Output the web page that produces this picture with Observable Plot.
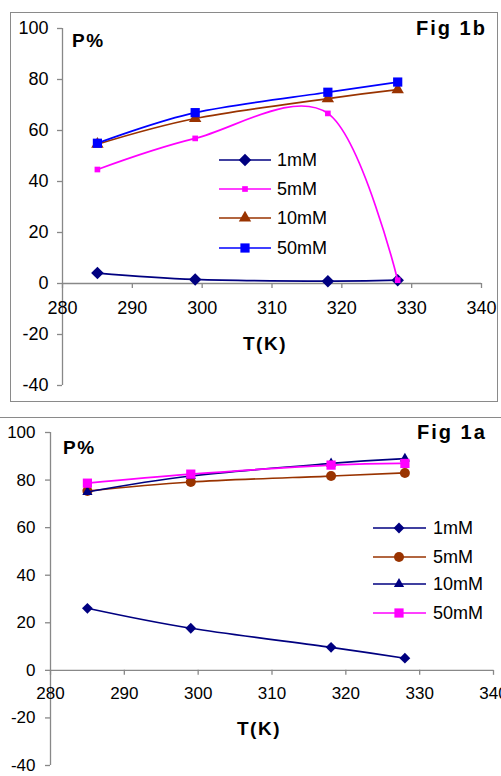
<!DOCTYPE html>
<html><head><meta charset="utf-8">
<script src="https://cdn.jsdelivr.net/npm/d3@7"></script>
<script src="https://cdn.jsdelivr.net/npm/@observablehq/plot@0.6"></script>
<style>
html,body{margin:0;padding:0;background:#fff;overflow:hidden;}
#root{position:relative;width:501px;height:776px;overflow:hidden;font-family:"Liberation Sans",Arial,sans-serif;background:#fff;}
.chart{position:absolute;left:0;}
.box{position:absolute;border:1.5px solid #8a8a8a;box-sizing:border-box;background:transparent;}
#overlay{position:absolute;left:0;top:0;pointer-events:none;}
</style></head><body><div id="root"></div>
<script>
// ---------- data ----------
const temps = [285, 299, 318, 328];
const xTicks = [280, 290, 300, 310, 320, 330, 340];
const yTicks = [-40, -20, 0, 20, 40, 60, 80, 100];
const seriesNames = ["1mM", "5mM", "10mM", "50mM"];

// Fig 1b
const fig1b_1mM  = [4.1, 1.6, 0.9, 1.3];
const fig1b_5mM  = [44.7, 56.9, 66.7, 1.3];
const fig1b_10mM = [54.6, 64.7, 72.5, 76.0];
const fig1b_50mM = [55.0, 67.0, 75.0, 79.0];

// Fig 1a
const fig1a_1mM  = [26.1, 17.7, 9.7, 5.1];
const fig1a_5mM  = [75.4, 79.2, 81.7, 83.0];
const fig1a_10mM = [75.0, 81.7, 87.0, 89.0];
const fig1a_50mM = [78.7, 82.5, 86.3, 87.0];

// ---------- styles ----------
const AX = "#888888";
const diamond = {draw(ctx, size){ const r = Math.sqrt(size/2); ctx.moveTo(0,-r); ctx.lineTo(r,0); ctx.lineTo(0,r); ctx.lineTo(-r,0); ctx.closePath(); }};
const d3sym = {square: d3.symbolSquare, triangle: d3.symbolTriangle, circle: d3.symbolCircle};
const styleB = [
  {color:"#000080", symbol: diamond, r:5},
  {color:"#FF00FF", symbol:"square", r:3.2},
  {color:"#993300", symbol:"triangle", r:4.6},
  {color:"#0000FF", symbol:"square", r:5.2}
];
const styleA = [
  {color:"#000080", symbol: diamond, r:4.3},
  {color:"#993300", symbol:"circle", r:5},
  {color:"#000080", symbol:"triangle", r:3.8},
  {color:"#FF00FF", symbol:"square", r:5.2}
];

function panel(values, styles, cfg) {
  const marks = [
    Plot.ruleX([280], {stroke: AX, strokeWidth: 1.3}),
    Plot.ruleY([0], {stroke: AX, strokeWidth: 1.3}),
    Plot.ruleX(xTicks, {x: d => d, y1: 0, y2: 0, insetBottom: -cfg.tick, stroke: AX, strokeWidth: 1.3}),
    Plot.ruleY(yTicks, {y: d => d, x1: 280, x2: 280, insetLeft: -cfg.tick, stroke: AX, strokeWidth: 1.3}),
    Plot.text(xTicks, {x: d => d, y: 0, dy: cfg.xdy, text: d => String(d), fontSize: cfg.fs, fill: "#000"}),
    Plot.text(yTicks, {x: 280, y: d => d, dx: cfg.ydx, text: d => String(d), textAnchor: "end", fontSize: cfg.fs, fill: "#000"})
  ];
  seriesNames.forEach((name, i) => {
    const d = temps.map((t, j) => ({series: name, T: t, P: values[i][j]}));
    const s = styles[i];
    marks.push(Plot.line(d, {x: "T", y: "P", stroke: s.color, strokeWidth: 1.7, curve: "cardinal"}));
    marks.push(Plot.dot(d, {x: "T", y: "P", symbol: s.symbol, r: s.r, fill: s.color, stroke: "none"}));
  });
  return Plot.plot({
    width: 501, height: cfg.height,
    marginLeft: cfg.ml, marginRight: cfg.mr, marginTop: cfg.mt, marginBottom: cfg.mb,
    x: {domain: [280, 340], axis: null},
    y: {domain: [-40, 100], axis: null},
    style: {fontFamily: '"Liberation Sans", Arial, sans-serif', background: "transparent", overflow: "visible"},
    marks
  });
}

const root = document.getElementById("root");

const chartB = panel([fig1b_1mM, fig1b_5mM, fig1b_10mM, fig1b_50mM], styleB,
  {height: 400, ml: 62, mr: 20, mt: 28, mb: 15, fs: 18, xdy: 25, ydx: -14, tick: 5});
chartB.classList.add("chart"); chartB.style.top = "0px";
root.appendChild(chartB);

const chartA = panel([fig1a_1mM, fig1a_5mM, fig1a_10mM, fig1a_50mM], styleA,
  {height: 371, ml: 50, mr: 8, mt: 27, mb: 11, fs: 17, xdy: 23, ydx: -15, tick: 5});
chartA.classList.add("chart"); chartA.style.top = "405px";
root.appendChild(chartA);

// panel borders
function box(l, t, w, h) { const b = document.createElement("div"); b.className = "box";
  Object.assign(b.style, {left: l + "px", top: t + "px", width: w + "px", height: h + "px"}); root.appendChild(b); }
box(10, 12, 488, 390);
box(-6, 417, 520, 400);

// overlay: titles, axis labels, legends
const ov = d3.select(root).append("svg").attr("id", "overlay").attr("width", 501).attr("height", 776)
  .style("font-family", '"Liberation Sans", Arial, sans-serif');

function label(txt, x, y, size, ls) {
  ov.append("text").attr("x", x).attr("y", y).attr("font-size", size).attr("font-weight", "bold")
    .attr("letter-spacing", ls).attr("fill", "#000").text(txt);
}
label("P%", 72, 47, 19, 1.5);
label("Fig 1b", 416, 35, 20, 2);
label("T(K)", 243, 350, 19, 1.5);
label("P%", 63, 454, 19, 1.5);
label("Fig 1a", 417, 439, 20, 2);
label("T(K)", 237, 735, 19, 1.5);

function legend(styles, rowsY, x0, x1, xm, xt) {
  seriesNames.forEach((name, i) => {
    const s = styles[i], y = rowsY[i];
    ov.append("line").attr("x1", x0).attr("x2", x1).attr("y1", y).attr("y2", y)
      .attr("stroke", s.color).attr("stroke-width", 1.7);
    const type = typeof s.symbol === "string" ? d3sym[s.symbol] : s.symbol;
    ov.append("path").attr("d", d3.symbol(type, Math.PI * s.r * s.r)())
      .attr("transform", `translate(${xm},${y})`).attr("fill", s.color);
    ov.append("text").attr("x", xt).attr("y", y).attr("dy", "0.35em").attr("font-size", 18)
      .attr("fill", "#000").text(name);
  });
}
legend(styleB, [160, 189, 218, 248], 219, 271, 245, 277);
legend(styleA, [528, 557, 584, 613], 373, 426, 399, 433);
</script></body></html>
